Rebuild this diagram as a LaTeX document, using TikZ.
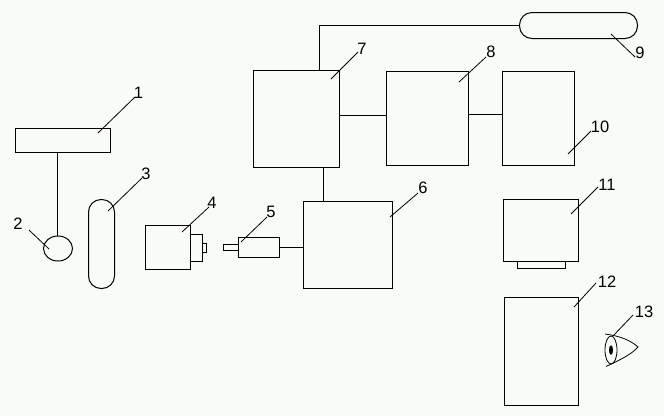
\documentclass[tikz,border=0pt]{standalone}
\usepackage{fontspec}
\usetikzlibrary{shapes.geometric}
\setmainfont{Liberation Sans}
\definecolor{paper}{HTML}{F8FCF8}
\tikzset{
  part/.style={draw=black,line width=1pt,rectangle,inner sep=0pt,outer sep=0pt,anchor=north west},
  pill/.style={part,rounded corners=12.5pt},
  round part/.style={draw=black,line width=1pt,ellipse,inner sep=0pt,outer sep=0pt},
  wire/.style={draw=black,line width=1pt},
  lead/.style={draw=black,line width=0.8pt},
  num/.style={inner sep=0pt,outer sep=0pt,font=\fontsize{16.5}{16.5}\selectfont}
}
\begin{document}
\begin{tikzpicture}[x=1pt,y=-1pt]
\fill[paper] (0,0) rectangle (664,416);
\useasboundingbox (0,0) rectangle (664,416);
% parts
\node[part,minimum width=95pt,minimum height=24pt] (b1) at (15.5,128.5) {};
\node[round part,minimum width=29pt,minimum height=25pt] (b2) at (58,248.5) {};
\node[pill,minimum width=26pt,minimum height=89pt] (b3) at (88.5,199.5) {};
\node[part,minimum width=45pt,minimum height=44pt] (b4) at (145.5,225.5) {};
\node[part,minimum width=12pt,minimum height=27pt] (b4a) at (190.5,234.5) {};
\node[part,minimum width=4pt,minimum height=9pt] (b4b) at (202.5,243.5) {};
\node[part,minimum width=41pt,minimum height=20pt] (b5) at (238.5,237.5) {};
\node[part,minimum width=15pt,minimum height=6pt] (b5a) at (223.5,244.5) {};
\node[part,minimum width=89pt,minimum height=87pt] (b6) at (303.5,201.5) {};
\node[part,minimum width=86pt,minimum height=97pt] (b7) at (253.5,70.5) {};
\node[part,minimum width=82pt,minimum height=94pt] (b8) at (386.5,71.5) {};
\node[pill,minimum width=118pt,minimum height=26pt] (b9) at (519.5,12.5) {};
\node[part,minimum width=72pt,minimum height=94pt] (b10) at (502.5,71.5) {};
\node[part,minimum width=75pt,minimum height=62pt] (b11) at (503.5,199.5) {};
\node[part,minimum width=48pt,minimum height=7pt] (b11a) at (517.5,261.5) {};
\node[part,minimum width=74pt,minimum height=108pt] (b12) at (504.5,297.5) {};
% eye
\node[round part,line width=0.8pt,minimum width=12pt,minimum height=28pt] (eye) at (611,350) {};
\node[fill=black,ellipse,minimum width=4pt,minimum height=9.5pt,inner sep=0pt,outer sep=0pt] (pupil) at (611,350) {};
\coordinate (lidT) at (605,334);
\coordinate (lidE) at (638,347);
\coordinate (lidB) at (606,366.5);
\draw[lead] (lidT) .. controls (620,336) and (630,340) .. (lidE) .. controls (632,354) and (620,360) .. (lidB);
% connectors
\coordinate (s1) at (57.5,152.5);
\draw[wire] (s1) -- (s1 |- b2.north);
\coordinate (s5) at (279.5,247.5);
\draw[wire] (s5) -- (s5 -| b6.west);
\coordinate (s76) at (323.5,167.5);
\draw[wire] (s76) -- (s76 |- b6.north);
\coordinate (s79) at (319.5,70.5);
\draw[wire] (s79) |- (b9.west);
\coordinate (s78) at (339.5,115.5);
\draw[wire] (s78) -- (s78 -| b8.west);
\coordinate (s810) at (468.5,114.5);
\draw[wire] (s810) -- (s810 -| b10.west);
% numbers
\node[num] (n1) at (138.5,93) {1};
\node[num] (n2) at (18,224) {2};
\node[num] (n3) at (146,174) {3};
\node[num] (n4) at (212,203) {4};
\node[num] (n5) at (271,212) {5};
\node[num] (n6) at (423,188) {6};
\node[num] (n7) at (362,49) {7};
\node[num] (n8) at (491,52) {8};
\node[num] (n9) at (640,53) {9};
\node[num] (n10) at (600,127) {10};
\node[num] (n11) at (607,185) {11};
\node[num] (n12) at (607,282) {12};
\node[num] (n13) at (644,312) {13};
% leaders
\coordinate (a1) at (98,133);   \coordinate (t1) at (135,97);
\coordinate (a2) at (49,249);   \coordinate (t2) at (29,230);
\coordinate (a3) at (108,211);  \coordinate (t3) at (142,178);
\coordinate (a4) at (182,232);  \coordinate (t4) at (209,207);
\coordinate (a5) at (241,242);  \coordinate (t5) at (267,217);
\coordinate (a6) at (390,217);  \coordinate (t6) at (418,193);
\coordinate (a7) at (331,79);   \coordinate (t7) at (358,52);
\coordinate (a8) at (459,82);   \coordinate (t8) at (486,57);
\coordinate (a9) at (611,34);   \coordinate (t9) at (635,57);
\coordinate (a10) at (568,154); \coordinate (t10) at (591,131);
\coordinate (a11) at (571,214); \coordinate (t11) at (598,187);
\coordinate (a12) at (574,307); \coordinate (t12) at (596,283);
\coordinate (a13) at (613,336); \coordinate (t13) at (633,315);
\foreach \i in {1,...,13}{\draw[lead] (a\i) -- (t\i);}
\end{tikzpicture}
\end{document}
